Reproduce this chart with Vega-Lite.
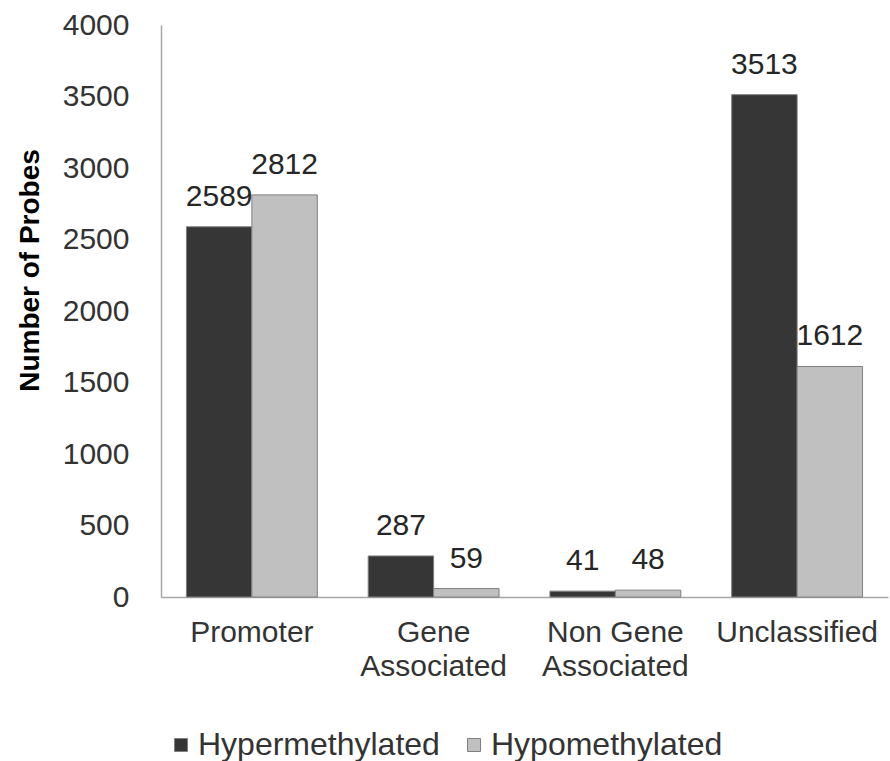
{
  "$schema": "https://vega.github.io/schema/vega-lite/v6.json",
  "width": 727,
  "height": 572,
  "autosize": "none",
  "padding": {"left": 161, "top": 25, "right": 2, "bottom": 164},
  "background": "white",
  "config": {"view": {"stroke": null}, "font": "Liberation Sans"},
  "data": {
    "values": [
      {"region": "Promoter", "status": "Hypermethylated", "count": 2589},
      {"region": "Promoter", "status": "Hypomethylated", "count": 2812},
      {"region": "Gene Associated", "status": "Hypermethylated", "count": 287},
      {"region": "Gene Associated", "status": "Hypomethylated", "count": 59},
      {"region": "Non Gene Associated", "status": "Hypermethylated", "count": 41},
      {"region": "Non Gene Associated", "status": "Hypomethylated", "count": 48},
      {"region": "Unclassified", "status": "Hypermethylated", "count": 3513},
      {"region": "Unclassified", "status": "Hypomethylated", "count": 1612}
    ]
  },
  "encoding": {
    "x": {
      "field": "region",
      "type": "nominal",
      "sort": ["Promoter", "Gene Associated", "Non Gene Associated", "Unclassified"],
      "scale": {"paddingInner": 0.28, "paddingOuter": 0.14},
      "axis": {
        "title": null,
        "ticks": false,
        "labelAngle": 0,
        "labelFontSize": 30,
        "labelColor": "#333333",
        "labelPadding": 20,
        "labelLineHeight": 34,
        "labelOverlap": false,
        "labelBound": false,
        "domainColor": "#a6a6a6",
        "domainWidth": 1.5,
        "labelExpr": "datum.label == 'Gene Associated' ? ['Gene', 'Associated'] : datum.label == 'Non Gene Associated' ? ['Non Gene', 'Associated'] : datum.label"
      }
    },
    "xOffset": {"field": "status", "type": "nominal", "sort": ["Hypermethylated", "Hypomethylated"]},
    "y": {
      "field": "count",
      "type": "quantitative",
      "scale": {"domain": [0, 4000], "nice": false},
      "axis": {
        "title": "Number of Probes",
        "values": [0, 500, 1000, 1500, 2000, 2500, 3000, 3500, 4000],
        "format": "d",
        "grid": false,
        "ticks": false,
        "labelFontSize": 30,
        "labelColor": "#333333",
        "labelPadding": 32,
        "domainColor": "#a6a6a6",
        "domainWidth": 1.5,
        "titleFontSize": 28,
        "titleFontWeight": "bold",
        "titleColor": "#000000",
        "titleX": -123,
        "titleY": 245,
        "titleAngle": -90,
        "titleAlign": "center",
        "titleBaseline": "alphabetic"
      }
    }
  },
  "layer": [
    {
      "mark": {"type": "bar", "stroke": "#7f7f7f", "strokeWidth": 1},
      "encoding": {
        "color": {
          "field": "status",
          "type": "nominal",
          "scale": {"domain": ["Hypermethylated", "Hypomethylated"], "range": ["#363636", "#c0c0c0"]},
          "legend": {
            "title": null,
            "orient": "none",
            "direction": "horizontal",
            "legendX": 4,
            "legendY": 704,
            "symbolType": "square",
            "symbolSize": 169,
            "symbolStrokeColor": "#7f7f7f",
            "symbolStrokeWidth": 1,
            "symbolOpacity": 1,
            "labelFontSize": 32,
            "labelLimit": 0,
            "labelColor": "#333333",
            "labelOffset": 1,
            "columnPadding": 18
          }
        }
      }
    },
    {
      "mark": {"type": "text", "baseline": "alphabetic", "dy": -21, "fontSize": 30, "color": "#262626"},
      "encoding": {"text": {"field": "count", "type": "quantitative"}}
    }
  ]
}
